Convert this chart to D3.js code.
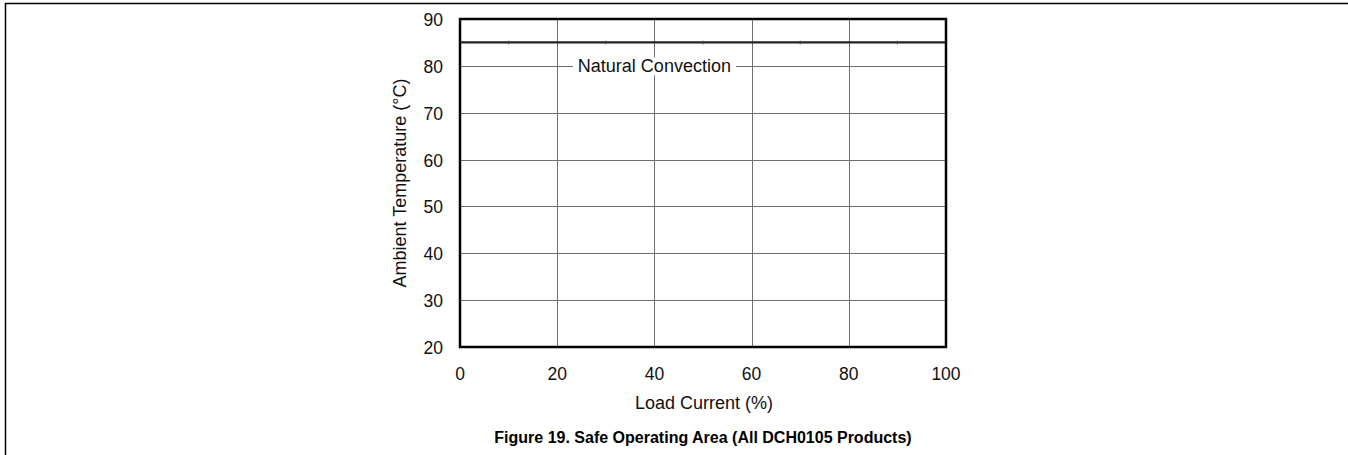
<!DOCTYPE html>
<html><head><meta charset="utf-8">
<script src="https://cdn.jsdelivr.net/npm/d3@7"></script>
<style>body{margin:0;background:#fff}svg{display:block}text{font-family:"Liberation Sans",Arial,sans-serif}</style>
</head><body>
<svg id="c" width="1348" height="455"></svg>
<script>
const xTicks = [0, 20, 40, 60, 80, 100];
const yTicks = [20, 30, 40, 50, 60, 70, 80, 90];
const limitX = [0, 100];
const limitY = [85, 85];
const minorX = [10, 30, 50, 70, 90];
const labelText = "Natural Convection";
const labelPos = [40, 80];

const svg = d3.select("#c");
const m = {l: 460, r: 946, t: 19, b: 347};
const x = d3.scaleLinear().domain([0, 100]).range([m.l, m.r]);
const y = d3.scaleLinear().domain([20, 90]).range([m.b, m.t]);

// outer frame
svg.append("path").attr("d", "M5.5,455 V3.5 H1348").attr("fill", "none").attr("stroke", "#000").attr("stroke-width", 1.5);

// grid
svg.append("g").selectAll("line").data(yTicks.slice(1, -1)).join("line")
  .attr("x1", m.l).attr("x2", m.r).attr("y1", d => Math.round(y(d)) + 0.5).attr("y2", d => Math.round(y(d)) + 0.5)
  .attr("stroke", "#6f6f6f").attr("stroke-width", 1);
svg.append("g").selectAll("line").data(xTicks.slice(1, -1)).join("line")
  .attr("y1", m.t).attr("y2", m.b).attr("x1", d => Math.round(x(d)) + 0.5).attr("x2", d => Math.round(x(d)) + 0.5)
  .attr("stroke", "#6f6f6f").attr("stroke-width", 1);

// limit line
svg.append("path").datum(limitX.map((d, i) => [d, limitY[i]]))
  .attr("d", d3.line().x(d => x(d[0])).y(d => y(d[1])))
  .attr("stroke", "#222").attr("stroke-width", 2.2).attr("fill", "none");
svg.append("g").selectAll("line").data(minorX).join("line")
  .attr("x1", d => x(d)).attr("x2", d => x(d)).attr("y1", y(85) - 1.8).attr("y2", y(85) + 1.8)
  .attr("stroke", "#444").attr("stroke-width", 1.2);

// label with white background
const lt = svg.append("text").attr("x", x(labelPos[0])).attr("y", y(labelPos[1]) + 6.5)
  .attr("text-anchor", "middle").attr("font-size", 18).attr("fill", "#111").text(labelText);
const bb = lt.node().getBBox();
svg.insert("rect", "text").attr("x", bb.x - 5).attr("y", bb.y + 1).attr("width", bb.width + 10).attr("height", bb.height - 2).attr("fill", "#fff");

// plot frame
svg.append("rect").attr("x", m.l).attr("y", m.t).attr("width", m.r - m.l).attr("height", m.b - m.t)
  .attr("fill", "none").attr("stroke", "#000").attr("stroke-width", 2.5);

// axes labels
svg.append("g").selectAll("text").data(yTicks).join("text")
  .attr("x", 443).attr("y", d => y(d) + 7).attr("text-anchor", "end").attr("font-size", 17.5).attr("fill", "#111").text(d => d);
svg.append("g").selectAll("text").data(xTicks).join("text")
  .attr("x", d => x(d)).attr("y", 380).attr("text-anchor", "middle").attr("font-size", 17.5).attr("fill", "#111").text(d => d);

svg.append("text").attr("x", (m.l + m.r) / 2 + 1).attr("y", 409).attr("text-anchor", "middle").attr("font-size", 18).attr("fill", "#111").text("Load Current (%)");
svg.append("text").attr("transform", `translate(406,${(m.t + m.b) / 2}) rotate(-90)`).attr("text-anchor", "middle").attr("font-size", 18).attr("fill", "#111").text("Ambient Temperature (°C)");
svg.append("text").attr("x", 703).attr("y", 443).attr("text-anchor", "middle").attr("font-size", 16).attr("font-weight", "bold").attr("fill", "#000").text("Figure 19. Safe Operating Area (All DCH0105 Products)");
</script>
</body></html>
